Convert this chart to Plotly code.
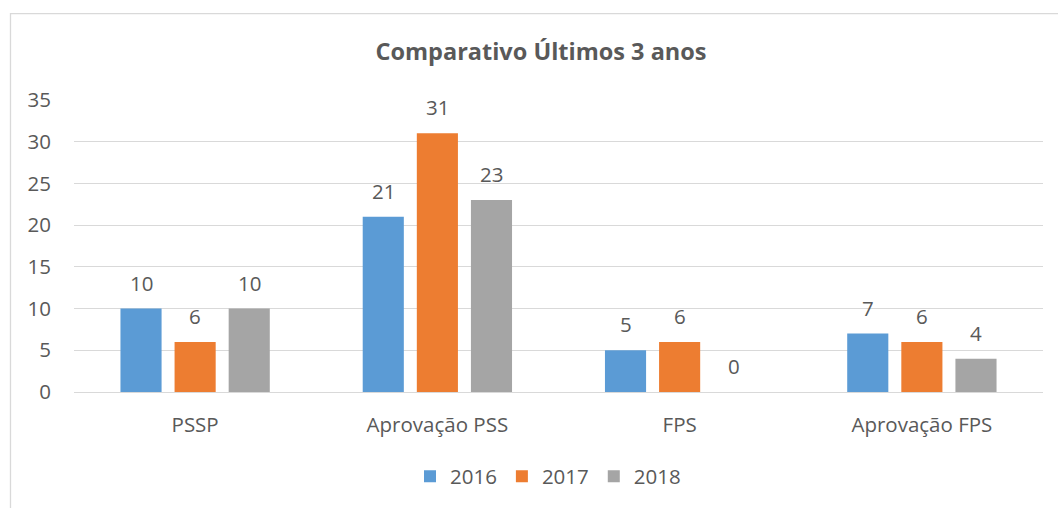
import plotly.graph_objects as go

categories = ["PSSP", "Aprovação PSS", "FPS", "Aprovação FPS"]
v2016 = [10, 21, 5, 7]
v2017 = [6, 31, 6, 6]
v2018 = [10, 23, 0, 4]
series = [("2016", v2016, "#5B9BD5"), ("2017", v2017, "#ED7D31"), ("2018", v2018, "#A5A5A5")]
yticks = [0, 5, 10, 15, 20, 25, 30, 35]

FONT = "'Open Sans', sans-serif"
TXT = "#595959"
FS = 20.5

W, H = 1058, 508
L, R, T, B = 74, 15, 100, 114
pw, ph = W - L - R, H - T - B
cat_w = pw / len(categories)
bargap = 0.33
slot = cat_w * (1 - bargap) / len(series)

fig = go.Figure()
for i, (name, vals, col) in enumerate(series):
    fig.add_trace(go.Bar(
        x=categories, y=vals, name=name, marker=dict(color=col, line=dict(width=0)),
    ))
    for c, v in zip(categories, vals):
        fig.add_annotation(x=c, y=v, text=str(v), showarrow=False, xref="x", yref="y",
                           xshift=(i - 1) * slot, yshift=10, yanchor="bottom",
                           font=dict(size=FS, color=TXT, family=FONT))

fig.update_layout(
    width=W, height=H,
    margin=dict(l=L, r=R, t=T, b=B),
    paper_bgcolor="white", plot_bgcolor="white",
    barmode="group", bargap=bargap, bargroupgap=0.24,
    font=dict(family=FONT, color=TXT, size=FS),
    title=dict(text="<b>Comparativo Últimos 3 anos</b>", x=541 / W, xanchor="center",
               y=1 - 52 / H, yanchor="middle", font=dict(size=23.5, color=TXT, family=FONT)),
    legend=dict(orientation="h", x=(410 - L) / pw, xanchor="left", y=(394 - 479) / ph, yanchor="middle",
                font=dict(size=FS, color=TXT), traceorder="normal"),
    showlegend=True,
)
fig.update_yaxes(range=[0, 35], tickvals=yticks, showgrid=True, gridcolor="#D9D9D9", gridwidth=1,
                 zeroline=True, zerolinecolor="#D9D9D9", zerolinewidth=1, showline=False,
                 ticks="", ticklabelstandoff=22, tickfont=dict(size=FS, color=TXT))
fig.update_xaxes(showline=False, ticks="", tickfont=dict(size=FS, color=TXT), ticklabelstandoff=18)

fig.add_shape(type="rect", xref="paper", yref="paper",
              x0=(10.5 - L) / pw, x1=(W + 20 - L) / pw,
              y0=(394 - (H + 20)) / ph, y1=(394 - 13) / ph,
              line=dict(color="#D9D9D9", width=1.3), fillcolor="rgba(0,0,0,0)", layer="below")

fig.write_html("out.html")
